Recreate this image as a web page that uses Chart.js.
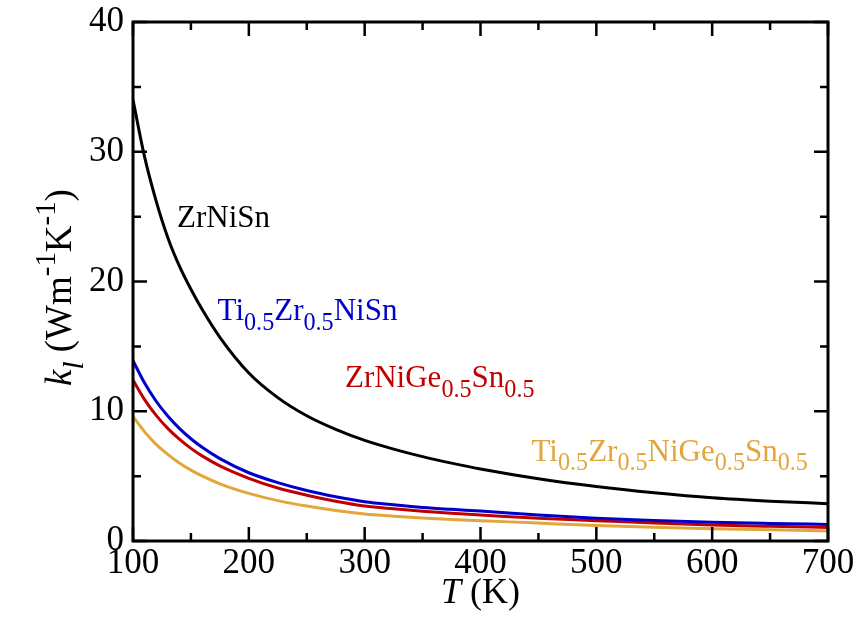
<!DOCTYPE html>
<html lang="en">
<head>
  <meta charset="UTF-8" />
  <title>Lattice thermal conductivity</title>
  <script src="https://cdn.jsdelivr.net/npm/chart.js"></script>
  <style>
    html, body { margin: 0; padding: 0; background: #fff; }
    #wrap { width: 867px; height: 626px; }
  </style>
</head>
<body>
  <div id="wrap"><canvas id="kappa" width="867" height="626"></canvas></div>

<script>
  // temperatures (K)
  const temps = [100, 110, 120, 130, 140, 150, 160, 175, 200, 225, 250, 275, 300, 325, 350, 375, 400, 450, 500, 550, 600, 650, 700];

  // k_l (W m^-1 K^-1)
  const zrNiSn     = [34.0, 29.6, 26.2, 23.4, 21.2, 19.4, 17.8, 15.7, 12.95, 11.05, 9.65, 8.6, 7.75, 7.08, 6.5, 6.0, 5.55, 4.8, 4.2, 3.72, 3.33, 3.07, 2.88];
  const tiZrNiSn   = [13.9, 12.17, 10.77, 9.63, 8.68, 7.88, 7.2, 6.35, 5.26, 4.5, 3.89, 3.41, 3.03, 2.79, 2.59, 2.44, 2.31, 2.0, 1.75, 1.58, 1.44, 1.35, 1.28];
  const zrNiGeSn   = [12.4, 10.9, 9.68, 8.68, 7.85, 7.14, 6.54, 5.79, 4.83, 4.08, 3.53, 3.07, 2.7, 2.48, 2.29, 2.13, 2.0, 1.75, 1.57, 1.38, 1.23, 1.13, 1.05];
  const tiZrNiGeSn = [9.6, 8.41, 7.45, 6.67, 6.01, 5.46, 5.0, 4.41, 3.67, 3.11, 2.69, 2.35, 2.08, 1.91, 1.77, 1.66, 1.57, 1.38, 1.2, 1.06, 0.95, 0.86, 0.78];

  const xTicks = [100, 200, 300, 400, 500, 600, 700];
  const yTicks = [0, 10, 20, 30, 40];

  const SERIF = "'Liberation Serif', 'DejaVu Serif', serif";

  function serie(vals, cor) {
    return {
      data: temps.map((t, i) => ({ x: t, y: vals[i] })),
      borderColor: cor,
      borderWidth: 3,
      pointRadius: 0,
      fill: false,
      cubicInterpolationMode: 'monotone'
    };
  }

  // text pieces: [text, 'n'|'sub'|'sup', italic]
  const SUB = 0.78;
  function larguraRica(ctx, partes, tam) {
    let w = 0;
    partes.forEach(p => {
      const s = p[1] === 'n' ? tam : tam * SUB;
      ctx.font = (p[2] ? 'italic ' : '') + s + 'px ' + SERIF;
      w += ctx.measureText(p[0]).width;
    });
    return w;
  }

  function textoRico(ctx, partes, x, y, tam, cor) {
    ctx.fillStyle = cor;
    ctx.textBaseline = 'alphabetic';
    ctx.textAlign = 'left';
    partes.forEach(p => {
      const s = p[1] === 'n' ? tam : tam * SUB;
      ctx.font = (p[2] ? 'italic ' : '') + s + 'px ' + SERIF;
      let dy = 0;
      if (p[1] === 'sub') dy = tam * 0.32;
      if (p[1] === 'sup') dy = -tam * 0.42;
      ctx.fillText(p[0], x, y + dy);
      x += ctx.measureText(p[0]).width;
    });
  }

  // curve labels anchored in data coordinates (left edge, baseline)
  const rotulos = [
    { t: 138, k: 24.2, cor: '#000000', partes: [['ZrNiSn', 'n']] },
    { t: 173, k: 17.0, cor: '#0000cc', partes: [['Ti', 'n'], ['0.5', 'sub'], ['Zr', 'n'], ['0.5', 'sub'], ['NiSn', 'n']] },
    { t: 283, k: 11.9, cor: '#c00000', partes: [['ZrNiGe', 'n'], ['0.5', 'sub'], ['Sn', 'n'], ['0.5', 'sub']] },
    { t: 444, k: 6.2, cor: '#e3a63c', partes: [['Ti', 'n'], ['0.5', 'sub'], ['Zr', 'n'], ['0.5', 'sub'], ['NiGe', 'n'], ['0.5', 'sub'], ['Sn', 'n'], ['0.5', 'sub']] }
  ];

  const moldura = {
    id: 'moldura',
    afterDraw(chart) {
      const ctx = chart.ctx;
      const a = chart.chartArea;
      const sx = chart.scales.x, sy = chart.scales.y;
      ctx.save();
      ctx.strokeStyle = '#000';
      ctx.lineCap = 'butt';

      // inward ticks on all four sides
      ctx.lineWidth = 2.5;
      for (let v = 100; v <= 700; v += 50) {
        const px = sx.getPixelForValue(v);
        const len = v % 100 === 0 ? 14 : 8;
        ctx.beginPath();
        ctx.moveTo(px, a.bottom); ctx.lineTo(px, a.bottom - len);
        ctx.moveTo(px, a.top); ctx.lineTo(px, a.top + len);
        ctx.stroke();
      }
      for (let v = 0; v <= 40; v += 5) {
        const py = sy.getPixelForValue(v);
        const len = v % 10 === 0 ? 14 : 8;
        ctx.beginPath();
        ctx.moveTo(a.left, py); ctx.lineTo(a.left + len, py);
        ctx.moveTo(a.right, py); ctx.lineTo(a.right - len, py);
        ctx.stroke();
      }

      ctx.lineWidth = 3;
      ctx.strokeRect(a.left, a.top, a.right - a.left, a.bottom - a.top);

      // curve labels
      rotulos.forEach(r => {
        textoRico(ctx, r.partes, sx.getPixelForValue(r.t), sy.getPixelForValue(r.k), 31, r.cor);
      });

      // x title
      const tx = [['T', 'n', true], [' (K)', 'n']];
      const wx = larguraRica(ctx, tx, 36);
      textoRico(ctx, tx, (a.left + a.right) / 2 - wx / 2, 603, 36, '#000');

      // y title (rotated)
      const ty = [['k', 'n', true], ['l', 'sub', true], [' (Wm', 'n'], ['-1', 'sup'], ['K', 'n'], ['-1', 'sup'], [')', 'n']];
      const wy = larguraRica(ctx, ty, 37);
      ctx.translate(71, (a.top + a.bottom) / 2 + 6);
      ctx.rotate(-Math.PI / 2);
      textoRico(ctx, ty, -wy / 2, 0, 37, '#000');
      ctx.restore();
    }
  };

  new Chart(document.getElementById('kappa'), {
    type: 'line',
    data: {
      datasets: [
        serie(zrNiSn, '#000000'),
        serie(tiZrNiSn, '#0000cc'),
        serie(zrNiGeSn, '#c00000'),
        serie(tiZrNiGeSn, '#e3a63c')
      ]
    },
    options: {
      responsive: false,
      animation: false,
      layout: { padding: { left: 0, top: 22, right: 39, bottom: 0 } },
      plugins: { legend: { display: false }, tooltip: { enabled: false } },
      scales: {
        x: {
          type: 'linear',
          min: 100, max: 700,
          afterBuildTicks: s => { s.ticks = xTicks.map(v => ({ value: v })); },
          afterFit: s => { s.height = 85; },
          grid: { display: false, drawTicks: false },
          border: { display: false },
          ticks: { color: '#000', font: { family: SERIF, size: 35 }, padding: 2, maxRotation: 0 }
        },
        y: {
          min: 0, max: 40,
          afterBuildTicks: s => { s.ticks = yTicks.map(v => ({ value: v })); },
          afterFit: s => { s.width = 133; s.paddingTop = 0; s.paddingBottom = 0; },
          grid: { display: false, drawTicks: false },
          border: { display: false },
          ticks: { color: '#000', font: { family: SERIF, size: 35, lineHeight: 0.6 }, padding: 9 }
        }
      }
    },
    plugins: [moldura]
  });
</script>
</body>
</html>
